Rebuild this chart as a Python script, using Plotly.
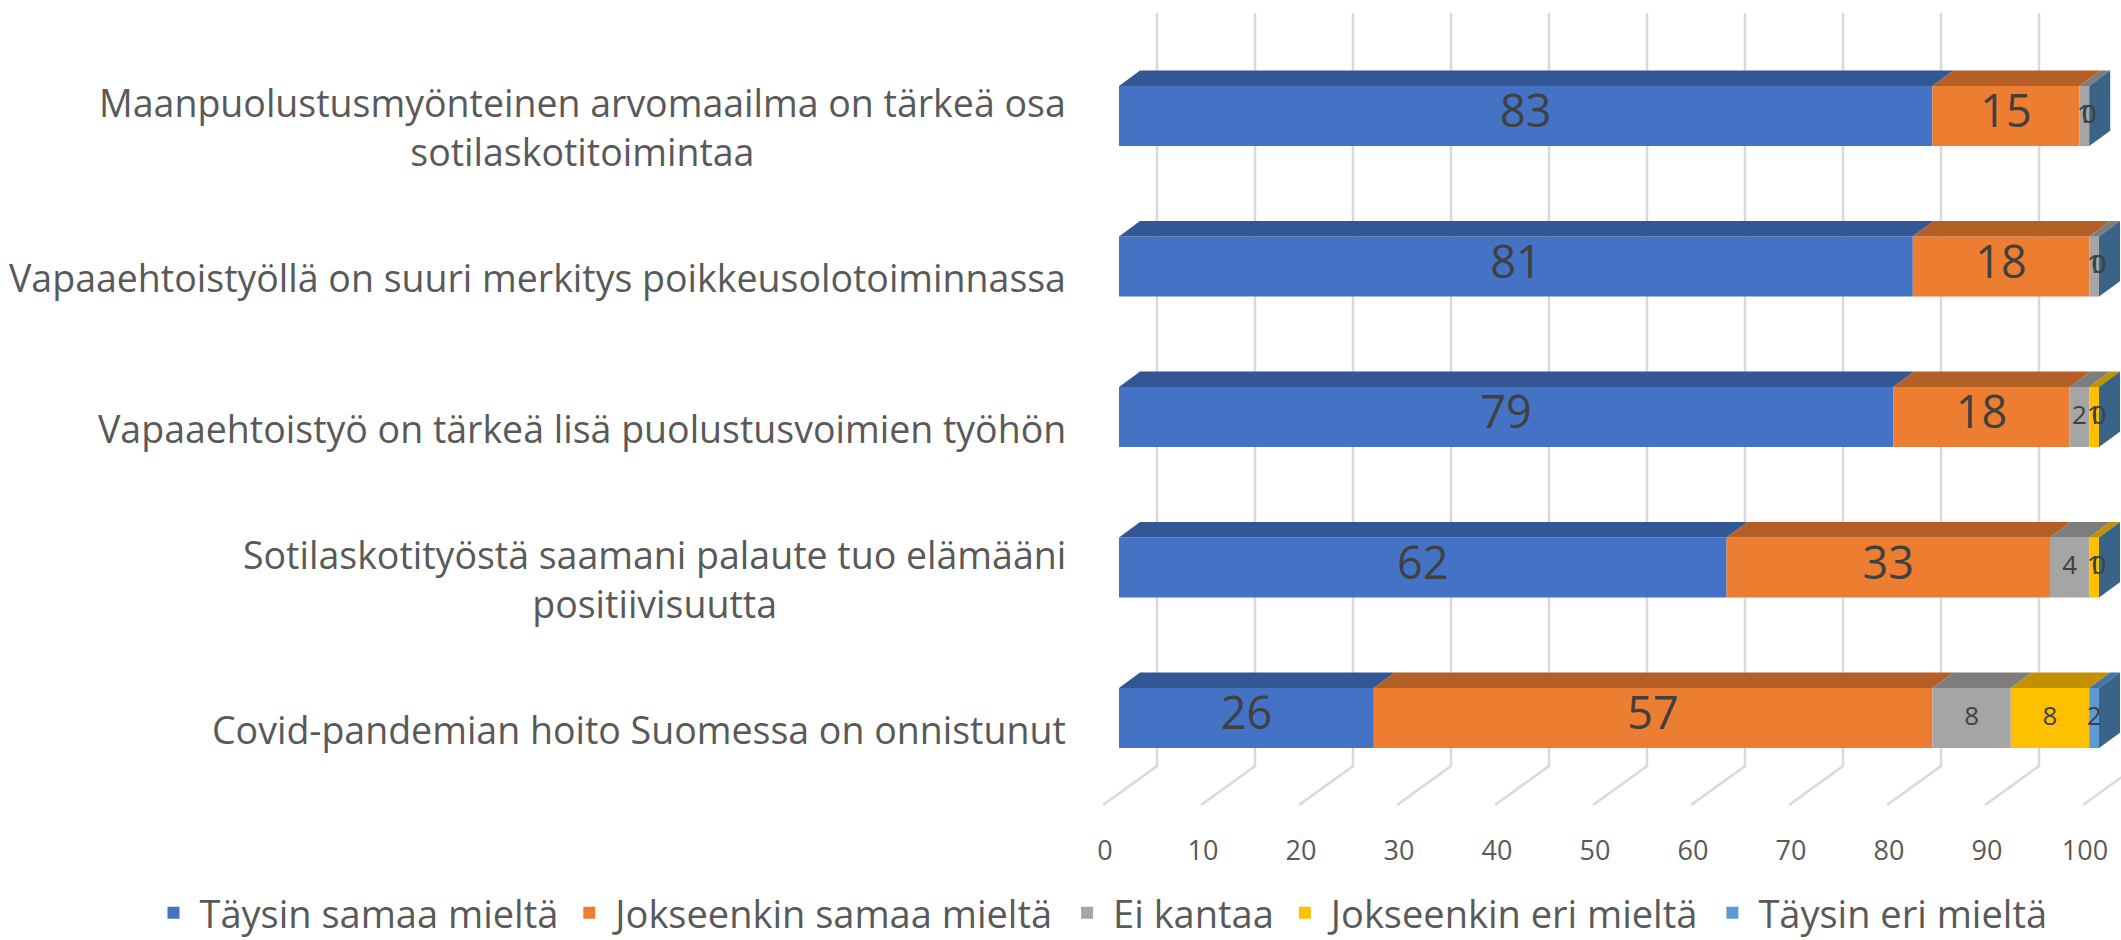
import plotly.graph_objects as go

# ---------------- data ----------------
CATEGORIES = [
    "Maanpuolustusmyönteinen arvomaailma on tärkeä osa<br>sotilaskotitoimintaa",
    "Vapaaehtoistyöllä on suuri merkitys poikkeusolotoiminnassa",
    "Vapaaehtoistyö on tärkeä lisä puolustusvoimien työhön",
    "Sotilaskotityöstä saamani palaute tuo elämääni<br>positiivisuutta",
    "Covid-pandemian hoito Suomessa on onnistunut",
]
SERIES_NAMES = [
    "Täysin samaa mieltä",
    "Jokseenkin samaa mieltä",
    "Ei kantaa",
    "Jokseenkin eri mieltä",
    "Täysin eri mieltä",
]
TAYSIN_SAMAA = [83, 81, 79, 62, 26]
JOKSEENKIN_SAMAA = [15, 18, 18, 33, 57]
EI_KANTAA = [1, 1, 2, 4, 8]
JOKSEENKIN_ERI = [0, 0, 1, 1, 8]
TAYSIN_ERI = [0, 0, 0, 0, 2]
X_TICKS = [0, 10, 20, 30, 40, 50, 60, 70, 80, 90, 100]
AXIS_MAX = 100

SERIES_VALUES = [TAYSIN_SAMAA, JOKSEENKIN_SAMAA, EI_KANTAA, JOKSEENKIN_ERI, TAYSIN_ERI]

# ---------------- style ----------------
COLORS = ["#4472C4", "#ED7D31", "#A5A5A5", "#FFC000", "#5B9BD5"]
LABEL_SIZES = [45, 45, 26, 26, 26]
FONT = "Open Sans"
TEXT_GREY = "#595959"
LABEL_COLOR = "#404040"
GRID_COLOR = "#D9D9D9"


def shade(hex_color, f):
    h = hex_color.lstrip("#")
    r, g, b = (int(h[i:i + 2], 16) for i in (0, 2, 4))
    return "#%02X%02X%02X" % (int(r * f), int(g * f), int(b * f))


W, H = 2121, 940
PLOT_BOTTOM_PX = 810
PX_PER_UNIT = 9.8
FRONT_ZERO_PX = 1119
ROW_PX = 150.5
FIRST_ROW_PX = 116

X_MIN = -FRONT_ZERO_PX / PX_PER_UNIT
X_MAX = (W - FRONT_ZERO_PX) / PX_PER_UNIT
Y_TOP = -FIRST_ROW_PX / ROW_PX
Y_BOTTOM = (PLOT_BOTTOM_PX - FIRST_ROW_PX) / ROW_PX

BAR_W = 0.4
DEPTH_DX = 21 / PX_PER_UNIT
DEPTH_DY = 15.3 / ROW_PX
BACK_DX = 38 / PX_PER_UNIT
FLOOR_FRONT_DX = -16 / PX_PER_UNIT
WALL_TOP_Y = (13 - FIRST_ROW_PX) / ROW_PX
FLOOR_BACK_Y = (766 - FIRST_ROW_PX) / ROW_PX
FLOOR_FRONT_Y = (805 - FIRST_ROW_PX) / ROW_PX
TICKLABEL_DX = 14 / PX_PER_UNIT
CAT_LABEL_DY = 0.075

rows = list(range(len(CATEGORIES)))

# stacked bases, clipped at axis max (as the original chart clips)
bases, lengths = [], []
cum = [0] * len(rows)
for vals in SERIES_VALUES:
    b_s, l_s = [], []
    for i, v in enumerate(vals):
        start = min(cum[i], AXIS_MAX)
        end = min(cum[i] + v, AXIS_MAX)
        b_s.append(start)
        l_s.append(end - start)
        cum[i] += v
    bases.append(b_s)
    lengths.append(l_s)

fig = go.Figure()

# front faces
for s, name in enumerate(SERIES_NAMES):
    fig.add_trace(go.Bar(
        orientation="h", y=rows, x=lengths[s], base=bases[s], width=BAR_W,
        name=name, marker=dict(color=COLORS[s], line=dict(width=0)),
        hoverinfo="skip",
    ))

# top faces
for s in range(len(SERIES_NAMES)):
    xs, ys = [], []
    for i in rows:
        a = bases[s][i]
        b = a + lengths[s][i]
        if b <= a:
            continue
        yt = i - BAR_W / 2
        xs += [a, b, b + DEPTH_DX, a + DEPTH_DX, a, None]
        ys += [yt, yt, yt - DEPTH_DY, yt - DEPTH_DY, yt, None]
    fig.add_trace(go.Scatter(
        x=xs, y=ys, mode="lines", fill="toself", fillcolor=shade(COLORS[s], 0.76),
        line=dict(width=0, color=shade(COLORS[s], 0.76)), showlegend=False,
        hoverinfo="skip",
    ))

# right side faces (last series' side, as drawn by the original)
xs, ys = [], []
for i in rows:
    e = bases[-1][i] + lengths[-1][i]
    yt, yb = i - BAR_W / 2, i + BAR_W / 2
    xs += [e, e + DEPTH_DX, e + DEPTH_DX, e, e, None]
    ys += [yt, yt - DEPTH_DY, yb - DEPTH_DY, yb, yt, None]
side_col = shade(COLORS[-1], 0.64)
fig.add_trace(go.Scatter(
    x=xs, y=ys, mode="lines", fill="toself", fillcolor=side_col,
    line=dict(width=0, color=side_col), showlegend=False, hoverinfo="skip",
))

# data labels
for s, vals in enumerate(SERIES_VALUES):
    fig.add_trace(go.Scatter(
        x=[bases[s][i] + lengths[s][i] / 2 for i in rows], y=rows,
        mode="text", text=[str(v) for v in vals], textposition="middle center",
        textfont=dict(family=FONT, size=LABEL_SIZES[s], color=LABEL_COLOR),
        showlegend=False, hoverinfo="skip", cliponaxis=False,
    ))

# back-wall gridlines and floor lines
shapes = []
for v in X_TICKS:
    shapes.append(dict(
        type="path", xref="x", yref="y", layer="below",
        path=f"M{v + BACK_DX},{WALL_TOP_Y} L{v + BACK_DX},{FLOOR_BACK_Y} L{v + FLOOR_FRONT_DX},{FLOOR_FRONT_Y}",
        line=dict(color=GRID_COLOR, width=2.5),
    ))

# category labels
annotations = []
for i, cat in enumerate(CATEGORIES):
    annotations.append(dict(
        text=cat, xref="paper", x=1068 / W, xanchor="right", align="center",
        yref="y", y=i + CAT_LABEL_DY, yanchor="middle", showarrow=False,
        font=dict(family=FONT, size=37.5, color=TEXT_GREY),
    ))

fig.update_layout(
    width=W, height=H,
    margin=dict(l=0, r=0, t=0, b=H - PLOT_BOTTOM_PX, pad=0, autoexpand=False),
    paper_bgcolor="white", plot_bgcolor="white",
    barmode="overlay",
    showlegend=True,
    xaxis=dict(
        range=[X_MIN, X_MAX], domain=[0, 1],
        tickvals=[v - TICKLABEL_DX for v in X_TICKS],
        ticktext=[str(v) for v in X_TICKS],
        showgrid=False, zeroline=False, showline=False, ticks="",
        ticklabelstandoff=22,
        tickfont=dict(family=FONT, size=27, color=TEXT_GREY),
    ),
    yaxis=dict(range=[Y_BOTTOM, Y_TOP], visible=False),
    shapes=shapes,
    annotations=annotations,
    legend=dict(
        orientation="h", x=1100 / W, xanchor="center",
        y=-(913 - PLOT_BOTTOM_PX) / PLOT_BOTTOM_PX, yanchor="middle",
        font=dict(family=FONT, size=38, color=TEXT_GREY),
        traceorder="normal", bgcolor="rgba(0,0,0,0)", itemwidth=42,
    ),
    font=dict(family=FONT),
)

fig.write_html(
    "out.html",
    config={"displayModeBar": False},
    post_script="document.body.style.margin='0px';document.body.style.overflow='hidden';",
)
